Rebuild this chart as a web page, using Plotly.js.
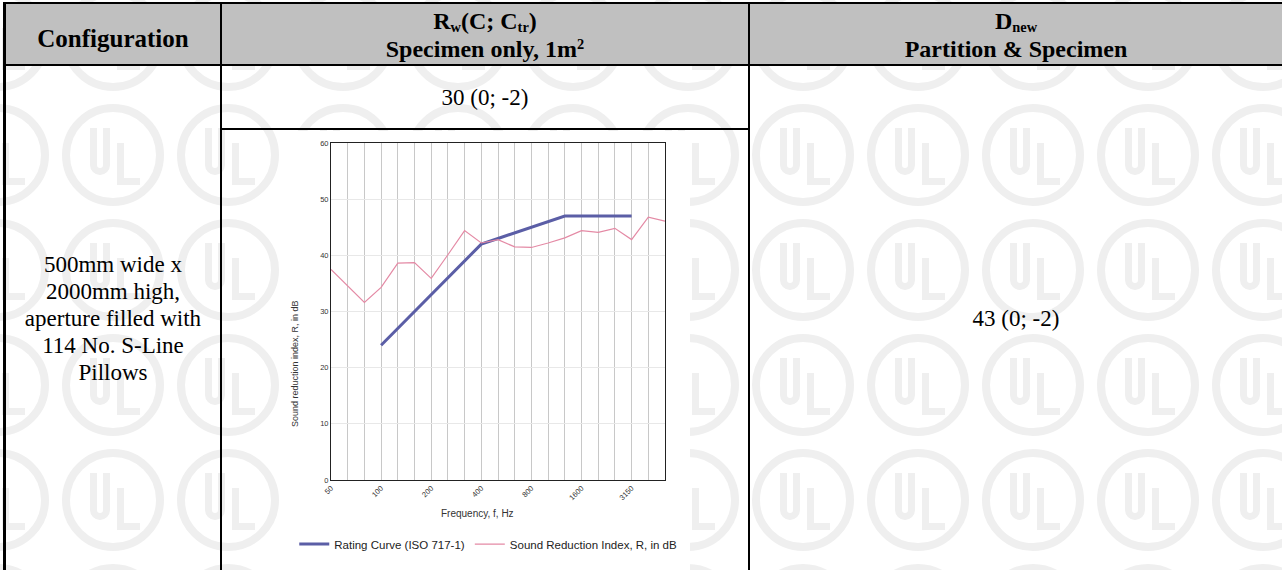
<!DOCTYPE html>
<html><head><meta charset="utf-8">
<script src="https://cdn.plot.ly/plotly-3.0.1.min.js"></script>
<style>
html,body{margin:0;padding:0;background:#fff;}
#page{position:relative;width:1282px;height:570px;overflow:hidden;background:#fff;font-family:"Liberation Serif","Times New Roman",serif;color:#000;}
.abs{position:absolute;}
.ln{position:absolute;background:#000;}
.box{position:absolute;display:flex;align-items:center;justify-content:center;text-align:center;}
.hdr{font-weight:bold;font-size:24px;line-height:28px;}
.txt{font-size:23px;line-height:27px;}
sub{font-size:60%;vertical-align:-0.2em;line-height:0;}
sup{font-size:60%;vertical-align:0.55em;line-height:0;}
</style></head><body>
<div id="page">
<svg id="wm" class="abs" style="left:0;top:0" width="1282" height="570"></svg>
<!-- header background -->
<div class="abs" style="left:5px;top:4px;width:1277px;height:60px;background:#c0c0c0"></div>
<!-- chart image white area -->
<div id="chart" class="abs" style="left:282px;top:131px;width:408px;height:439px;background:#fff"></div>
<!-- borders -->
<div class="ln" style="left:3px;top:2px;width:1279px;height:2px"></div>
<div class="ln" style="left:3px;top:2px;width:3px;height:568px"></div>
<div class="ln" style="left:3px;top:64px;width:1279px;height:2px"></div>
<div class="ln" style="left:220px;top:2px;width:2px;height:568px"></div>
<div class="ln" style="left:748px;top:2px;width:2px;height:568px"></div>
<div class="ln" style="left:220px;top:128px;width:530px;height:2px"></div>
<!-- header texts -->
<div class="box hdr" style="left:6px;top:4px;width:214px;height:60px;"><div style="margin-top:10px;font-size:25px">Configuration</div></div>
<div class="box hdr" style="left:222px;top:4px;width:526px;height:60px;"><div style="margin-top:2px">R<sub>w</sub>(C; C<sub>tr</sub>)<br>Specimen only, 1m<sup>2</sup></div></div>
<div class="box hdr" style="left:750px;top:4px;width:532px;height:60px;"><div style="margin-top:2px">D<sub>new</sub><br>Partition &amp; Specimen</div></div>
<!-- body texts -->
<div class="box txt" style="left:222px;top:66px;width:526px;height:62px;">30 (0; -2)</div>
<div class="box txt" style="left:6px;top:66px;width:214px;height:504px;"><div>500mm wide x<br>2000mm high,<br>aperture filled with<br>114 No. S-Line<br>Pillows</div></div>
<div class="box txt" style="left:750px;top:66px;width:532px;height:504px;">43 (0; -2)</div>
</div>
<script>
// ---- data ----
const freqs = ['50','63','80','100','125','160','200','250','315','400','500','630','800','1000','1250','1600','2000','2500','3150','4000','5000'];
const soundReduction = [37.5,34.6,31.6,34.3,38.6,38.7,35.9,40.1,44.4,42.2,42.8,41.5,41.4,42.2,43.1,44.4,44.1,44.8,42.8,46.8,46.1];
const ratingFreqs = ['100','125','160','200','250','315','400','500','630','800','1000','1250','1600','2000','2500','3150'];
const ratingCurve = [24,27,30,33,36,39,42,43,44,45,46,47,47,47,47,47];
const tickLabels = ['50','100','200','400','800','1600','3150'];
const yTicks = [0,10,20,30,40,50,60];

// ---- watermark (decoration) ----
(function(){
  const svg = document.getElementById('wm');
  let html = '';
  for (let cy = 40; cy < 640; cy += 115) {
    for (let cx = -2; cx < 1400; cx += 115) {
      html += '<g transform="translate(' + cx + ',' + cy + ')" fill="none" stroke="#efefef">' +
        '<circle r="47" stroke-width="8"/>' +
        '<path d="M -19.5 -27 V 10 A 6.5 6.5 0 0 0 -6.5 10 V -27" stroke-width="7"/>' +
        '<path d="M 7.5 -12 V 26.5 H 27" stroke-width="7"/>' +
        '</g>';
    }
  }
  svg.innerHTML = html;
})();

// ---- chart ----
const traces = [
  {x: ratingFreqs, y: ratingCurve, type:'scatter', mode:'lines', name:'Rating Curve (ISO 717-1)',
   line:{color:'#5b5ea6', width:3}},
  {x: freqs, y: soundReduction, type:'scatter', mode:'lines', name:'Sound Reduction Index, R, in dB',
   line:{color:'#e48aa5', width:1.2}}
];
const fnt = '"Liberation Sans", Arial, sans-serif';
const layout = {
  width:408, height:439,
  margin:{l:48, r:25, t:12, b:79},
  paper_bgcolor:'#fff', plot_bgcolor:'#fff',
  showlegend:true,
  legend:{orientation:'h', x:-0.11, xanchor:'left', y:-0.19, yanchor:'middle',
          font:{family:fnt, size:11.5, color:'#222'}, bgcolor:'rgba(0,0,0,0)', itemwidth:30, tracegroupgap:0},
  xaxis:{type:'category', categoryorder:'array', categoryarray:freqs, range:[0, freqs.length-1],
         tickvals:freqs, ticktext:freqs.map(f => tickLabels.includes(f) ? f : ''),
         tickangle:-45, tickfont:{family:fnt, size:7.5, color:'#333'},
         showgrid:true, gridcolor:'#c8c8c8', gridwidth:1,
         showline:true, linecolor:'#222', linewidth:1, mirror:true, ticks:'', zeroline:false, fixedrange:true},
  yaxis:{range:[0,60], tickvals:yTicks, tickfont:{family:fnt, size:7.5, color:'#333'},
         showgrid:true, gridcolor:'#e8e8e8', gridwidth:1, ticks:'', ticklen:0,
         showline:true, linecolor:'#222', linewidth:1, mirror:true, zeroline:false, fixedrange:true},
  annotations:[
    {text:'Sound reduction index, R, in dB', xref:'paper', yref:'paper', x:-0.11, y:0.345, textangle:-90,
     showarrow:false, xanchor:'center', yanchor:'middle', font:{family:fnt, size:9, color:'#333'}},
    {text:'Frequency, f, Hz', xref:'paper', yref:'paper', x:0.44, y:-0.10,
     showarrow:false, xanchor:'center', yanchor:'middle', font:{family:fnt, size:10, color:'#333'}}
  ]
};
Plotly.newPlot('chart', traces, layout, {displayModeBar:false, staticPlot:true});
</script>
</body></html>
